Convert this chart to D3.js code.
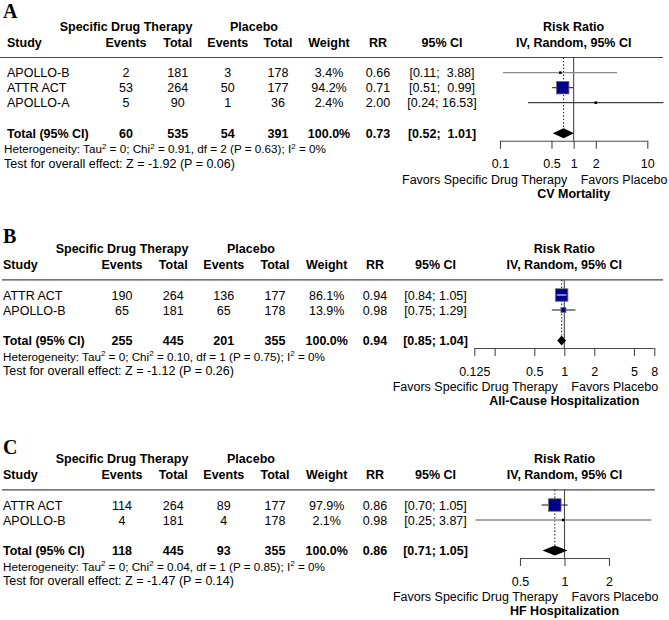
<!DOCTYPE html>
<html><head><meta charset="utf-8">
<script src="https://cdn.jsdelivr.net/npm/d3@7"></script>
<style>
html,body{margin:0;padding:0;background:#fff;}
svg text{font-family:"Liberation Sans",Arial,sans-serif;font-size:12.5px;fill:#000;white-space:pre;}
</style></head><body>
<svg id="chart" width="669" height="620"></svg>
<script>
// ---------------- DATA ----------------
const panelLetters = ["A", "B", "C"];
const outcomeTitles = ["CV Mortality", "All-Cause Hospitalization", "HF Hospitalization"];

// Panel A - CV Mortality
const studiesA = ["APOLLO-B", "ATTR ACT", "APOLLO-A"];
const txEventsA = [2, 53, 5];
const txTotalA = [181, 264, 90];
const plEventsA = [3, 50, 1];
const plTotalA = [178, 177, 36];
const weightsA = [3.4, 94.2, 2.4];
const rrA = [0.66, 0.71, 2.00];
const ciLowA = [0.11, 0.51, 0.24];
const ciHighA = [3.88, 0.99, 16.53];
const pooledCountsA = [60, 535, 54, 391];
const pooledA = [0.73, 0.52, 1.01];
const hetA = ["0", "0.91", "2", "0.63", "0%"];
const overallA = ["-1.92", "0.06"];
const ticksA = [0.1, 0.5, 1, 2, 10];
const tickLabelsA = ["0.1", "0.5", "1", "2", "10"];

// Panel B - All-Cause Hospitalization
const studiesB = ["ATTR ACT", "APOLLO-B"];
const txEventsB = [190, 65];
const txTotalB = [264, 181];
const plEventsB = [136, 65];
const plTotalB = [177, 178];
const weightsB = [86.1, 13.9];
const rrB = [0.94, 0.98];
const ciLowB = [0.84, 0.75];
const ciHighB = [1.05, 1.29];
const pooledCountsB = [255, 445, 201, 355];
const pooledB = [0.94, 0.85, 1.04];
const hetB = ["0", "0.10", "1", "0.75", "0%"];
const overallB = ["-1.12", "0.26"];
const ticksB = [0.125, 0.2, 0.5, 1, 2, 5, 8];
const tickLabelsB = ["0.125", "", "0.5", "1", "2", "5", "8"];

// Panel C - HF Hospitalization
const studiesC = ["ATTR ACT", "APOLLO-B"];
const txEventsC = [114, 4];
const txTotalC = [264, 181];
const plEventsC = [89, 4];
const plTotalC = [177, 178];
const weightsC = [97.9, 2.1];
const rrC = [0.86, 0.98];
const ciLowC = [0.70, 0.25];
const ciHighC = [1.05, 3.87];
const pooledCountsC = [118, 445, 93, 355];
const pooledC = [0.86, 0.71, 1.05];
const hetC = ["0", "0.04", "1", "0.85", "0%"];
const overallC = ["-1.47", "0.14"];
const ticksC = [0.5, 1, 2];
const tickLabelsC = ["0.5", "1", "2"];

// ---------------- LAYOUT / STYLE ----------------
const layout = [
  {top: 31, letterY: 17.5, studyX: 7, hetX: 4, sdtX: 126, plX: 254, cols: [126, 177.7, 227.8, 278, 329, 378, 442], range: [500, 647.3], ruleX: [0, 663], greyCI: [0]},
  {top: 253.3, letterY: 243.3, studyX: 3, hetX: 3, sdtX: 122, plX: 251, cols: [122, 173.3, 223.8, 275, 326.7, 375, 435.5], range: [474.3, 654.3], ruleX: [2, 663], greyCI: []},
  {top: 463.3, letterY: 453.5, studyX: 3, hetX: 3, sdtX: 122, plX: 251, cols: [122, 173.3, 223.8, 275, 326.7, 375, 435.5], range: [520, 609], ruleX: [2, 655], greyCI: [1]}
];

const panels = [
  {studies: studiesA, txE: txEventsA, txN: txTotalA, plE: plEventsA, plN: plTotalA, w: weightsA, rr: rrA, lo: ciLowA, hi: ciHighA, pc: pooledCountsA, pooled: pooledA, het: hetA, overall: overallA, ticks: ticksA, tickLabels: tickLabelsA},
  {studies: studiesB, txE: txEventsB, txN: txTotalB, plE: plEventsB, plN: plTotalB, w: weightsB, rr: rrB, lo: ciLowB, hi: ciHighB, pc: pooledCountsB, pooled: pooledB, het: hetB, overall: overallB, ticks: ticksB, tickLabels: tickLabelsB},
  {studies: studiesC, txE: txEventsC, txN: txTotalC, plE: plEventsC, plN: plTotalC, w: weightsC, rr: rrC, lo: ciLowC, hi: ciHighC, pc: pooledCountsC, pooled: pooledC, het: hetC, overall: overallC, ticks: ticksC, tickLabels: tickLabelsC}
];

const svg = d3.select("#chart");
const lineCol = "#4a4a4a";
const squareFill = "#00008B";
const squareStroke = "#707070";
const maxSquare = 12.5;

function fmtCI(lo, hi, width) {
  let h = hi.toFixed(2);
  while (h.length < width) h = " " + h;
  return "[" + lo.toFixed(2) + "; " + h + "]";
}

panels.forEach((p, pi) => {
  const L = layout[pi];
  const g = svg.append("g");
  const H = L.top;
  const h2 = H + 15.5;
  const ruleY = H + 26.5;
  const rowY = p.studies.map((s, i) => H + 46.3 + 15 * i);
  const totalY = rowY[rowY.length - 1] + 30.5;
  const hetY = totalY + 15.5;
  const testY = hetY + 14.2;
  const axisY = totalY + 2.9;
  const tickLabY = axisY + 27.8;
  const favY = tickLabY + 15;
  const titleY = favY + 14.5;
  const markOff = 4.6;

  const x = d3.scaleLog().domain([p.ticks[0], p.ticks[p.ticks.length - 1]]).range(L.range);
  const x1 = x(1);
  const plotCenter = (L.range[0] + L.range[1]) / 2;
  const c = L.cols;

  // panel letter
  g.append("text").attr("x", 3).attr("y", L.letterY)
    .style("font-family", '"Liberation Serif","Times New Roman",serif')
    .style("font-size", "20px").style("font-weight", "bold").text(panelLetters[pi]);

  // headers
  const bold = sel => sel.style("font-weight", "bold");
  const t = (xx, yy, txt, anchor) => g.append("text").attr("x", xx).attr("y", yy)
    .attr("text-anchor", anchor || "middle").text(txt);

  bold(t(L.sdtX, H, "Specific Drug Therapy"));
  bold(t(L.plX, H, "Placebo"));
  bold(t(plotCenter, H, "Risk Ratio"));
  bold(t(L.studyX, h2, "Study", "start"));
  ["Events", "Total", "Events", "Total", "Weight", "RR", "95% CI"].forEach((lab, k) => bold(t(c[k], h2, lab)));
  bold(t(plotCenter, h2, "IV, Random, 95% CI"));

  // rule
  g.append("line").attr("x1", L.ruleX[0]).attr("x2", L.ruleX[1]).attr("y1", ruleY).attr("y2", ruleY)
    .attr("stroke", lineCol).attr("stroke-width", 1.2);

  const ciWidth = d3.max(p.hi.concat([p.pooled[2]]), v => v.toFixed(2).length);

  // study rows
  p.studies.forEach((s, i) => {
    const y = rowY[i];
    t(L.studyX, y, s, "start");
    t(c[0], y, String(p.txE[i]));
    t(c[1], y, String(p.txN[i]));
    t(c[2], y, String(p.plE[i]));
    t(c[3], y, String(p.plN[i]));
    t(c[4], y, p.w[i].toFixed(1) + "%");
    t(c[5], y, p.rr[i].toFixed(2));
    t(c[6], y, fmtCI(p.lo[i], p.hi[i], ciWidth));
  });

  // total row
  bold(t(L.studyX, totalY, "Total (95% CI)", "start"));
  p.pc.forEach((v, k) => bold(t(c[k], totalY, String(v))));
  bold(t(c[4], totalY, "100.0%"));
  bold(t(c[5], totalY, p.pooled[0].toFixed(2)));
  bold(t(c[6], totalY, fmtCI(p.pooled[1], p.pooled[2], ciWidth)));

  // heterogeneity line with superscripts
  const het = g.append("text").attr("x", L.hetX).attr("y", hetY).style("font-size", "11.7px");
  const sup = (txt) => { het.append("tspan").attr("dy", -4.5).style("font-size", "8px").text(txt); };
  const norm = (txt) => { het.append("tspan").attr("dy", 4.5).text(txt); };
  het.append("tspan").text("Heterogeneity: Tau");
  sup("2"); norm(" = " + p.het[0] + "; Chi");
  sup("2"); norm(" = " + p.het[1] + ", df = " + p.het[2] + " (P = " + p.het[3] + "); I");
  sup("2"); norm(" = " + p.het[4]);

  t(L.hetX, testY, "Test for overall effect: Z = " + p.overall[0] + " (P = " + p.overall[1] + ")", "start");

  // reference line at 1
  g.append("line").attr("x1", x1).attr("x2", x1).attr("y1", ruleY).attr("y2", axisY)
    .attr("stroke", lineCol).attr("stroke-width", 1.1);
  // pooled estimate dotted line
  g.append("line").attr("x1", x(p.pooled[0])).attr("x2", x(p.pooled[0]))
    .attr("y1", ruleY).attr("y2", totalY - markOff)
    .attr("stroke", "#222").attr("stroke-width", 1.1).attr("stroke-dasharray", "1.4,2");

  // study CIs and squares
  const maxW = d3.max(p.w);
  p.studies.forEach((s, i) => {
    const y = rowY[i] - markOff;
    const xl = x(p.lo[i]), xh = x(p.hi[i]), xe = x(p.rr[i]);
    const grey = L.greyCI.includes(i);
    g.append("line").attr("x1", xl).attr("x2", xh).attr("y1", y).attr("y2", y)
      .attr("stroke", grey ? "#8a8a8a" : "#111").attr("stroke-width", grey ? 1.3 : 1);
    const sz = Math.max(maxSquare * Math.sqrt(p.w[i] / maxW), 2.6);
    g.append("rect").attr("x", xe - sz / 2).attr("y", y - sz / 2).attr("width", sz).attr("height", sz)
      .attr("fill", sz < 4 ? "#000" : squareFill).attr("stroke", sz < 4 ? "none" : squareStroke).attr("stroke-width", 0.8);
    if (xl > xe - sz / 2 && xh < xe + sz / 2) {
      g.append("line").attr("x1", xl).attr("x2", xh).attr("y1", y).attr("y2", y)
        .attr("stroke", "#fff").attr("stroke-width", 1);
    }
  });

  // pooled diamond
  const dy = totalY - markOff;
  const dh = 5;
  g.append("path")
    .attr("d", `M${x(p.pooled[1])},${dy}L${x(p.pooled[0])},${dy - dh}L${x(p.pooled[2])},${dy}L${x(p.pooled[0])},${dy + dh}Z`)
    .attr("fill", "#000");

  // axis
  const axis = d3.axisBottom(x).tickValues(p.ticks).tickFormat((d, k) => p.tickLabels[k])
    .tickSizeInner(8).tickSizeOuter(0).tickPadding(10.9);
  const ax = g.append("g").attr("transform", `translate(0,${axisY})`).call(axis);
  ax.select(".domain").attr("stroke", lineCol).attr("stroke-width", 1.1);
  ax.selectAll(".tick line").attr("stroke", lineCol).attr("stroke-width", 1.1);
  ax.selectAll(".tick text").style("font-size", "12.5px").style("font-family", '"Liberation Sans",Arial,sans-serif').attr("fill", "#000");

  // favors labels and outcome title
  t(x1 - 6.5, favY, "Favors Specific Drug Therapy", "end");
  t(x1 + 7, favY, "Favors Placebo", "start");
  bold(t(plotCenter, titleY, outcomeTitles[pi]));
});
</script>
</body></html>
